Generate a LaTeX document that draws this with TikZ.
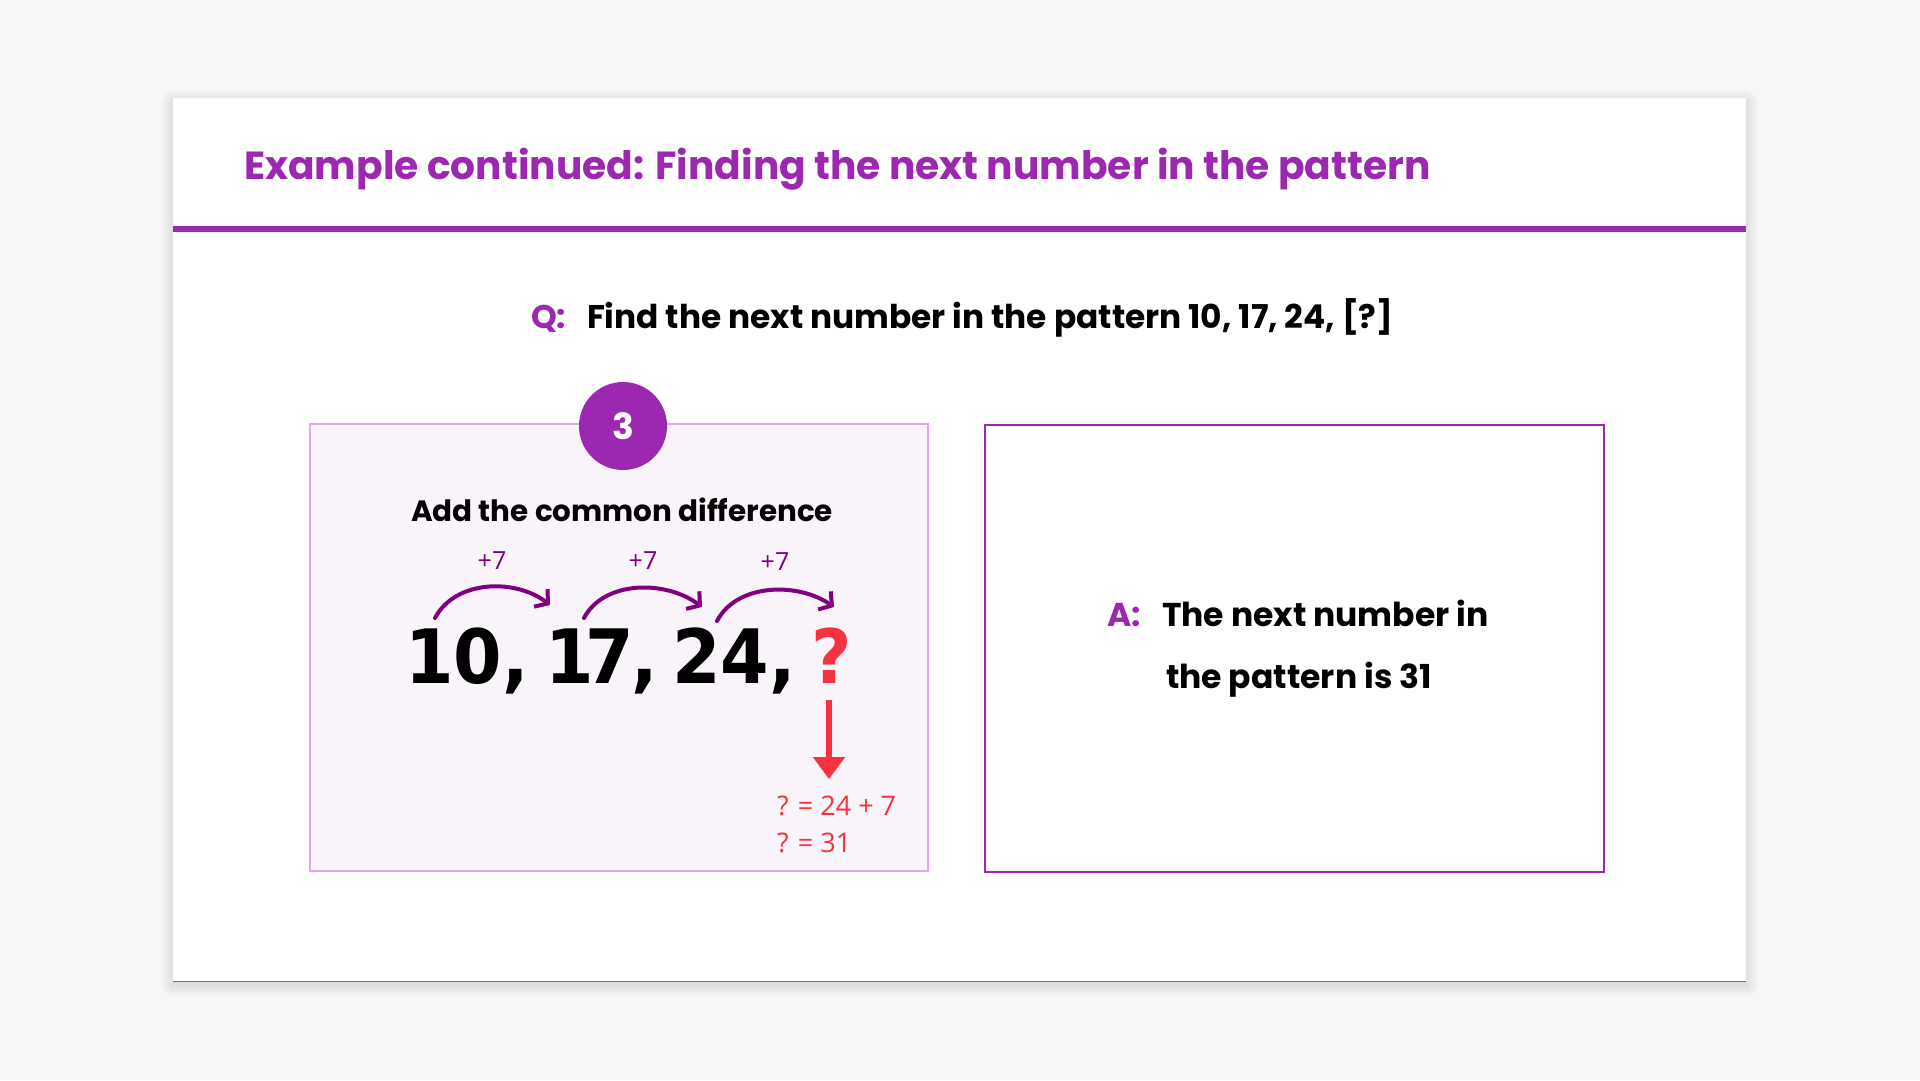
\documentclass[tikz,border=0pt]{standalone}
\usepackage{fontspec}
\setmainfont{Poppins}
\newfontfamily\bignum{DejaVu Sans}[FakeStretch=0.93]
\newfontfamily\smallsans{Open Sans}
\usetikzlibrary{arrows.meta}
\definecolor{bg}{HTML}{F7F7F7}
\definecolor{purp}{HTML}{9C27B0}
\definecolor{darkpurp}{HTML}{800080}
\definecolor{qred}{HTML}{F4333F}
\definecolor{lfill}{HTML}{F9F3FA}
\definecolor{lborder}{HTML}{DDA8E5}
\definecolor{cardline}{HTML}{D9483B}
\tikzset{
  hop/.style={draw=darkpurp, line width=4pt, line cap=round, -{Straight Barb[length=9pt,width=22pt,line width=4pt]}},
  hoplabel/.style={anchor=base, text=darkpurp, font=\smallsans\fontsize{25}{28}\selectfont},
  redtxt/.style={anchor=base west, text=qred, font=\smallsans\fontsize{27}{30}\selectfont},
  qtxt/.style={anchor=base west, font=\fontsize{32.8}{38}\selectfont\bfseries},
  atxt/.style={anchor=base west, font=\fontsize{33}{38}\selectfont\bfseries},
  bigtxt/.style={anchor=base west, font=\bignum\bfseries\fontsize{75}{80}\selectfont},
  softshadow/.style={fill=black, opacity=0.008},
}
\begin{document}
\begin{tikzpicture}[x=1pt,y=-1pt, every node/.style={inner sep=0pt, outer sep=0pt}]
\useasboundingbox (0,0) rectangle (1920,1080);
\fill[bg] (0,0) rectangle (1920,1080);
% card shadow
\foreach \r in {1,2,...,12}{
  \fill[softshadow, rounded corners=\r pt] (173-\r,98-\r+4) rectangle (1746+\r,981+\r+4);
}
% card
\fill[white] (173,98) rectangle (1746,981);
\draw[cardline, line width=1pt] (173,981) -- (1746,981);
\fill[purp] (173,226) rectangle (1746,232);
\node[anchor=base west, text=purp, font=\fontsize{39.2}{44}\selectfont\bfseries] (title) at (244,179) {Example continued: Finding the next number in the pattern};
% question
\node[qtxt, text=purp] (qlab) at (531,328) {Q:};
\node[qtxt] (qtext) at (587,328) {Find the next number in the pattern 10, 17, 24, [?]};
% left box
\draw[lborder, fill=lfill, line width=2pt] (310,424) rectangle (928,871);
\node[circle, fill=purp, minimum size=88pt, text=white, font=\fontsize{36}{40}\selectfont\bfseries] (step) at (623,426) {3};
\node[anchor=base, font=\fontsize{29.4}{34}\selectfont\bfseries] (head) at (622,521) {Add the common difference};
\node[bigtxt] (n10) at (405,683) {10,};
\node[bigtxt] (n17) at (545,683) {1\kern-8pt 7\kern-3pt,};
\node[bigtxt] (n24) at (672,683) {24,};
\node[anchor=base, text=qred, font=\bignum\bfseries\fontsize{75}{80}\selectfont] (qm) at (832,683) {?};
% hops
\coordinate (s1) at (435,618); \coordinate (e1) at (550,605);
\coordinate (s2) at (584,618); \coordinate (e2) at (702,607);
\coordinate (s3) at (717,621); \coordinate (e3) at (834,607);
\draw[hop] (s1) .. controls (455,580) and (515,578) .. (e1);
\draw[hop] (s2) .. controls (604,580) and (666,580) .. (e2);
\draw[hop] (s3) .. controls (737,583) and (798,582) .. (e3);
\node[hoplabel] (p1) at (492,569) {+7};
\node[hoplabel] (p2) at (643,569) {+7};
\node[hoplabel] (p3) at (775,570) {+7};
% red arrow
\coordinate (rtop) at (829,700);
\coordinate (rbot) at (829,779);
\draw[qred, line width=6pt, -{Triangle[length=22pt,width=31pt]}] (rtop) -- (rbot);
\node[redtxt] (eq1) at (777,815) {? = 24 + 7};
\node[redtxt] (eq2) at (777,852) {? = 31};
% right box
\draw[purp, fill=white, line width=2pt] (985,425) rectangle (1604,872);
\node[atxt, text=purp] (alab) at (1107,626) {A:};
\node[atxt] (a1) at (1162,626) {The next number in};
\node[atxt] (a2) at (1166,688) {the pattern is 31};
\end{tikzpicture}
\end{document}
